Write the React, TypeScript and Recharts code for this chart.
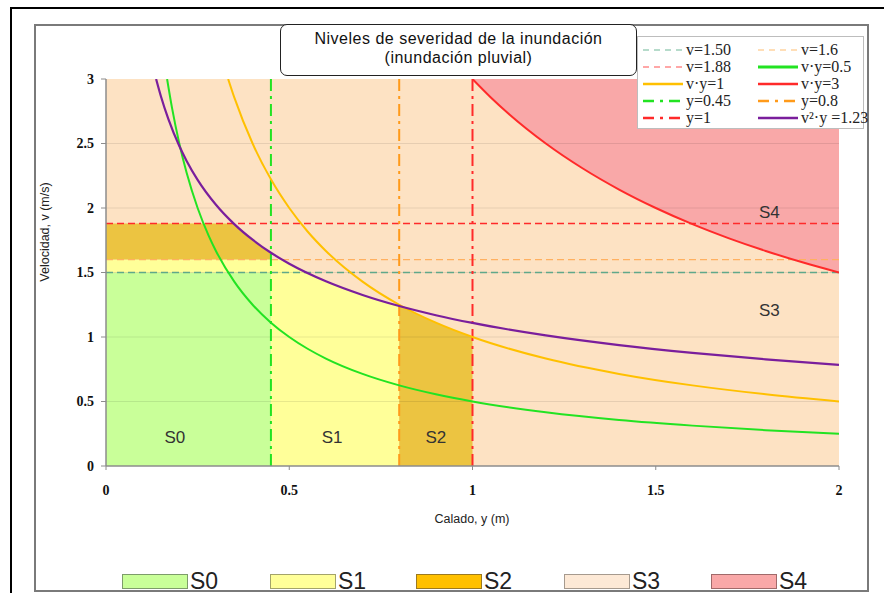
import React from 'react';
import { ComposedChart, Area, Line, XAxis, YAxis, ReferenceLine, ReferenceDot } from 'recharts';

// eje x: calado y (m), eje y: velocidad v (m/s)
const xTicks = [0, 0.5, 1, 1.5, 2];
const yTicks = [0, 0.5, 1, 1.5, 2, 2.5, 3];
const gridV = [0.5, 1, 1.5, 2, 2.5];

// curvas
const depthVy05 = [0.1667, 0.18, 0.2, 0.22, 0.25, 0.28, 0.3, 0.35, 0.4, 0.45, 0.5, 0.55, 0.6, 0.7, 0.8, 0.9, 1, 1.2, 1.4, 1.6, 1.8, 2];
const velVy05 = [3, 2.778, 2.5, 2.273, 2, 1.786, 1.667, 1.429, 1.25, 1.111, 1, 0.909, 0.833, 0.714, 0.625, 0.556, 0.5, 0.417, 0.357, 0.313, 0.278, 0.25];

const depthVy1 = [0.3333, 0.35, 0.4, 0.45, 0.5, 0.55, 0.6, 0.7, 0.8, 0.9, 1, 1.2, 1.4, 1.6, 1.8, 2];
const velVy1 = [3, 2.857, 2.5, 2.222, 2, 1.818, 1.667, 1.429, 1.25, 1.111, 1, 0.833, 0.714, 0.625, 0.556, 0.5];

const depthVy3 = [1, 1.05, 1.1, 1.2, 1.3, 1.4, 1.5, 1.6, 1.7, 1.8, 1.9, 2];
const velVy3 = [3, 2.857, 2.727, 2.5, 2.308, 2.143, 2, 1.875, 1.765, 1.667, 1.579, 1.5];

const depthV2y = [0.1367, 0.15, 0.17, 0.2, 0.22, 0.25, 0.3, 0.35, 0.4, 0.45, 0.5, 0.6, 0.7, 0.8, 0.9, 1, 1.2, 1.4, 1.6, 1.8, 2];
const velV2y = [3, 2.864, 2.69, 2.48, 2.365, 2.218, 2.025, 1.875, 1.754, 1.653, 1.568, 1.432, 1.326, 1.24, 1.169, 1.109, 1.012, 0.937, 0.877, 0.827, 0.784];

// limites horizontales y verticales
const velLimits = [1.5, 1.6, 1.88];
const depthLimits = [0.45, 0.8, 1];

// zonas (calado, v inferior, v superior)
const s3Depth = [0, 2];
const s3Low = [0, 0];
const s3High = [3, 3];

const s4Depth = [1, 1.05, 1.1, 1.2, 1.3, 1.4, 1.5, 1.6, 1.7, 1.8, 1.9, 2];
const s4Low = [3, 2.857, 2.727, 2.5, 2.308, 2.143, 2, 1.875, 1.765, 1.667, 1.579, 1.5];
const s4High = [3, 3, 3, 3, 3, 3, 3, 3, 3, 3, 3, 3];

const s0Depth = [0, 0.45];
const s0Low = [0, 0];
const s0High = [1.5, 1.5];

const s1aDepth = [0, 0.45];
const s1aLow = [1.5, 1.5];
const s1aHigh = [1.6, 1.6];

const s1bDepth = [0.45, 0.48, 0.5, 0.55, 0.6, 0.65, 0.7, 0.75, 0.8];
const s1bLow = [0, 0, 0, 0, 0, 0, 0, 0, 0];
const s1bHigh = [1.6, 1.6, 1.568, 1.495, 1.432, 1.376, 1.326, 1.281, 1.24];

const s2aDepth = [0, 0.348, 0.36, 0.38, 0.4, 0.42, 0.45];
const s2aLow = [1.6, 1.6, 1.6, 1.6, 1.6, 1.6, 1.6];
const s2aHigh = [1.88, 1.88, 1.848, 1.799, 1.754, 1.711, 1.653];

const s2bDepth = [0.8, 0.85, 0.9, 0.95, 1];
const s2bLow = [0, 0, 0, 0, 0];
const s2bHigh = [1.24, 1.176, 1.111, 1.053, 1];

const zoneNames = ['S0', 'S1', 'S2', 'S3', 'S4'];
const zoneLabelDepth = [0.188, 0.617, 0.9, 1.81, 1.81];
const zoneLabelVel = [0.225, 0.225, 0.225, 1.209, 1.969];

const legendNames = ['v=1.50', 'v=1.6', 'v=1.88', 'v·y=0.5', 'v·y=1', 'v·y=3', 'y=0.45', 'y=0.8', 'y=1', 'v²·y =1.23'];

const pts = (xs: number[], vs: number[]) => xs.map((x, i) => ({ x, v: vs[i] }));
const band = (xs: number[], lo: number[], hi: number[]) => xs.map((x, i) => ({ x, r: [lo[i], hi[i]] }));

const C = {
  s0: '#c9ff99',
  s1: '#ffff99',
  s2: '#ecc441',
  s3: '#fde2c3',
  s4: '#f9a8a8',
  teal: '#5fa88a',
  lorange: '#ffb060',
  red: '#ff2a2a',
  green: '#22e322',
  gold: '#ffc000',
  orange: '#ff9a1a',
  purple: '#7a1e9c',
};

const velStyles = [
  { stroke: C.teal, dash: '7 4' },
  { stroke: C.lorange, dash: '7 4' },
  { stroke: C.red, dash: '7 4' },
];
const depthStyles = [
  { stroke: C.green, dash: '12 5 3 5' },
  { stroke: C.orange, dash: '12 5 3 5' },
  { stroke: C.red, dash: '12 5 3 5' },
];

const legendStyles = [
  { stroke: '#9fd0bb', dash: '6 5', w: 1.5 },
  { stroke: '#ffd3a0', dash: '6 5', w: 1.5 },
  { stroke: '#ff8a8a', dash: '6 5', w: 1.5 },
  { stroke: C.green, dash: '', w: 3 },
  { stroke: C.gold, dash: '', w: 2.5 },
  { stroke: C.red, dash: '', w: 2.5 },
  { stroke: C.green, dash: '11 6 3 6', w: 2.5 },
  { stroke: C.orange, dash: '11 6 3 6', w: 2.5 },
  { stroke: C.red, dash: '11 6 3 6', w: 2.5 },
  { stroke: C.purple, dash: '', w: 2.5 },
];

const bottomFills = ['#c9ff99', '#ffff99', '#ffc000', '#fde9d6', '#f9a8a8'];
const bottomBorders = ['#7d9c6a', '#a3a36a', '#9c7a20', '#a69a8e', '#a06a6a'];
const bottomLeft = [122, 270, 416, 564, 711];

const sans = '"Liberation Sans", Arial, sans-serif';
const serif = '"Liberation Serif", "Times New Roman", serif';

export default function App() {
  const tickStyle = { fontFamily: serif, fontWeight: 'bold', fontSize: 14, fill: '#111' };
  return (
    <div style={{ position: 'absolute', left: 0, top: 0, width: 884, height: 593, background: '#fff', overflow: 'hidden' }}>
      <ComposedChart width={884} height={593} margin={{ top: 79, right: 45, bottom: 97, left: 46 }}>
        <XAxis
          type="number"
          dataKey="x"
          domain={[0, 2]}
          ticks={xTicks}
          allowDataOverflow
          height={30}
          tick={tickStyle}
          tickSize={4}
          tickMargin={15}
          axisLine={{ stroke: '#8c8c8c', strokeWidth: 1.5 }}
          tickLine={{ stroke: '#8c8c8c' }}
        />
        <YAxis
          type="number"
          domain={[0, 3]}
          ticks={yTicks}
          allowDataOverflow
          width={60}
          tick={tickStyle}
          tickSize={5}
          tickMargin={7}
          axisLine={{ stroke: '#8c8c8c', strokeWidth: 1.5 }}
          tickLine={{ stroke: '#8c8c8c' }}
        />
        <Area data={band(s3Depth, s3Low, s3High)} dataKey="r" type="linear" stroke="none" fill={C.s3} fillOpacity={1} isAnimationActive={false} activeDot={false} />
        <Area data={band(s4Depth, s4Low, s4High)} dataKey="r" type="monotone" stroke="none" fill={C.s4} fillOpacity={1} isAnimationActive={false} activeDot={false} />
        <Area data={band(s0Depth, s0Low, s0High)} dataKey="r" type="linear" stroke="none" fill={C.s0} fillOpacity={1} isAnimationActive={false} activeDot={false} />
        <Area data={band(s1aDepth, s1aLow, s1aHigh)} dataKey="r" type="linear" stroke="none" fill={C.s1} fillOpacity={1} isAnimationActive={false} activeDot={false} />
        <Area data={band(s1bDepth, s1bLow, s1bHigh)} dataKey="r" type="monotone" stroke="none" fill={C.s1} fillOpacity={1} isAnimationActive={false} activeDot={false} />
        <Area data={band(s2aDepth, s2aLow, s2aHigh)} dataKey="r" type="monotone" stroke="none" fill={C.s2} fillOpacity={1} isAnimationActive={false} activeDot={false} />
        <Area data={band(s2bDepth, s2bLow, s2bHigh)} dataKey="r" type="monotone" stroke="none" fill={C.s2} fillOpacity={1} isAnimationActive={false} activeDot={false} />

        {gridV.map((v) => (
          <ReferenceLine key={'g' + v} y={v} stroke="rgba(0,0,0,0.09)" strokeWidth={1} />
        ))}
        {velLimits.map((v, i) => (
          <ReferenceLine key={'h' + v} y={v} stroke={velStyles[i].stroke} strokeDasharray={velStyles[i].dash} strokeWidth={1.3} />
        ))}
        {depthLimits.map((d, i) => (
          <ReferenceLine key={'d' + d} x={d} stroke={depthStyles[i].stroke} strokeDasharray={depthStyles[i].dash} strokeWidth={2} />
        ))}

        <Line data={pts(depthVy05, velVy05)} dataKey="v" type="monotone" stroke={C.green} strokeWidth={2} dot={false} activeDot={false} isAnimationActive={false} />
        <Line data={pts(depthVy1, velVy1)} dataKey="v" type="monotone" stroke={C.gold} strokeWidth={2} dot={false} activeDot={false} isAnimationActive={false} />
        <Line data={pts(depthVy3, velVy3)} dataKey="v" type="monotone" stroke={C.red} strokeWidth={2} dot={false} activeDot={false} isAnimationActive={false} />
        <Line data={pts(depthV2y, velV2y)} dataKey="v" type="monotone" stroke={C.purple} strokeWidth={2.2} dot={false} activeDot={false} isAnimationActive={false} />

        {zoneNames.map((n, i) => (
          <ReferenceDot
            key={n}
            x={zoneLabelDepth[i]}
            y={zoneLabelVel[i]}
            r={0}
            stroke="none"
            fill="none"
            label={{ value: n, position: 'center', fontSize: 17, fill: '#333', fontFamily: sans }}
          />
        ))}
      </ComposedChart>

      {/* marcos */}
      <div style={{ position: 'absolute', left: 10, top: 7, width: 900, height: 620, borderLeft: '2px solid #000', borderTop: '2px solid #000' }} />
      <div style={{ position: 'absolute', left: 34, top: 24, width: 831, height: 564, border: '2px solid #7a7a7a' }} />

      {/* titulo */}
      <div
        style={{
          position: 'absolute', left: 280, top: 24, width: 355, height: 46, border: '1.5px solid #222', borderRadius: 7,
          background: '#fff', fontFamily: sans, fontSize: 16, letterSpacing: 0.5, lineHeight: '19px', textAlign: 'center',
          color: '#111', paddingTop: 4, boxSizing: 'content-box',
        }}
      >
        Niveles de severidad de la inundación
        <br />
        (inundación pluvial)
      </div>

      {/* leyenda de lineas */}
      <div style={{ position: 'absolute', left: 637, top: 36, width: 225, height: 91, border: '1px solid #bdbdbd', background: '#fff' }}>
        {legendNames.map((n, i) => {
          const col = i % 2;
          const row = Math.floor(i / 2);
          const s = legendStyles[i];
          return (
            <div key={n} style={{ position: 'absolute', left: col === 0 ? 5 : 120, top: 4 + row * 17, height: 17, display: 'flex', alignItems: 'center' }}>
              <svg width={40} height={10} style={{ marginRight: 3 }}>
                <line x1={0} y1={5} x2={40} y2={5} stroke={s.stroke} strokeWidth={s.w} strokeDasharray={s.dash || undefined} />
              </svg>
              <span style={{ fontFamily: serif, fontSize: 16, color: '#222', whiteSpace: 'nowrap' }}>{n}</span>
            </div>
          );
        })}
      </div>

      {/* etiquetas de ejes */}
      <div style={{ position: 'absolute', left: 45, top: 232, transform: 'translate(-50%, -50%) rotate(-90deg)', fontFamily: sans, fontSize: 12.5, color: '#222', whiteSpace: 'nowrap' }}>
        Velocidad, v (m/s)
      </div>
      <div style={{ position: 'absolute', left: 472, top: 519, transform: 'translate(-50%, -50%)', fontFamily: sans, fontSize: 12.5, color: '#222', whiteSpace: 'nowrap' }}>
        Calado, y (m)
      </div>

      {/* leyenda de zonas */}
      {zoneNames.map((n, i) => (
        <div key={'b' + n} style={{ position: 'absolute', left: bottomLeft[i], top: 570, height: 22, display: 'flex', alignItems: 'center' }}>
          <div style={{ width: 66, height: 15, background: bottomFills[i], border: '1px solid ' + bottomBorders[i], boxSizing: 'border-box', marginRight: 2 }} />
          <span style={{ fontFamily: '"Liberation Sans Narrow", ' + sans, fontSize: 23, color: '#222', lineHeight: '22px' }}>{n}</span>
        </div>
      ))}
    </div>
  );
}
